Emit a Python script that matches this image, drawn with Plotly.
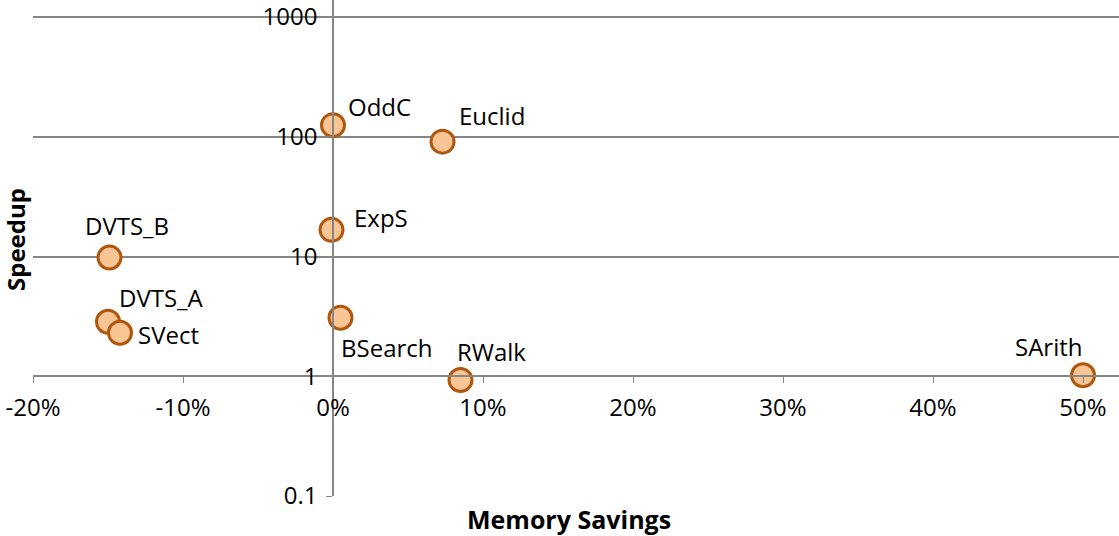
import plotly.graph_objects as go
import math

names = ["OddC", "Euclid", "ExpS", "DVTS_B", "DVTS_A", "SVect", "BSearch", "RWalk", "SArith"]
mem_savings = [0.0, 0.073, -0.001, -0.149, -0.150, -0.142, 0.005, 0.085, 0.50]
speedup = [125, 91, 16.7, 9.8, 2.85, 2.31, 3.08, 0.93, 1.02]

x_ticks = [-0.2, -0.1, 0.0, 0.1, 0.2, 0.3, 0.4, 0.5]
x_tick_text = ["-20%", "-10%", "0%", "10%", "20%", "30%", "40%", "50%"]
y_ticks = [0.1, 1, 10, 100, 1000]
y_tick_text = ["0.1", "1", "10", "100", "1000"]

# styling: label offsets in pixels (dx right, dy down) relative to each marker
label_offsets = [(46, -19), (49, -26), (49, -12), (17, -32), (53, -24),
                 (48, 2), (46, 30), (31, -29), (-35, -29)]

x_range = [-0.2, 0.524]
y_range = [-1, 3.142]

FONT = "Open Sans, Liberation Sans, sans-serif"

fig = go.Figure()
fig.add_trace(go.Scatter(
    x=mem_savings, y=speedup, mode="markers",
    marker=dict(size=23, color="#FAC595", line=dict(color="#B0570F", width=3)),
    cliponaxis=False, showlegend=False,
))

annotations = []
for name, xv, yv, (dx, dy) in zip(names, mem_savings, speedup, label_offsets):
    annotations.append(dict(
        text=name, x=xv, y=math.log10(yv), xref="x", yref="y",
        showarrow=False, xanchor="center", yanchor="middle",
        xshift=dx, yshift=-dy, font=dict(family=FONT, size=24, color="black"),
    ))

x_axis_pos = (0 - y_range[0]) / (y_range[1] - y_range[0])
y_axis_pos = (0 - x_range[0]) / (x_range[1] - x_range[0])

annotations += [
    dict(text="<b>Memory Savings</b>", xref="paper", yref="paper",
         x=0.494, y=0, yshift=-23, showarrow=False, yanchor="middle",
         font=dict(size=25)),
    dict(text="<b>Speedup</b>", xref="paper", yref="paper",
         x=0, xshift=-18, y=0.5, yshift=8, showarrow=False, textangle=-90,
         xanchor="center", yanchor="middle", font=dict(size=24)),
]

fig.update_layout(
    width=1119, height=536,
    margin=dict(l=33, r=0, t=0, b=40, autoexpand=False),
    plot_bgcolor="white", paper_bgcolor="white",
    font=dict(family=FONT, size=24, color="black"),
    xaxis=dict(
        range=x_range, tickvals=x_ticks, ticktext=x_tick_text,
        showgrid=False, zeroline=False, automargin=False,
        showline=True, linecolor="#868686", linewidth=1.5,
        ticks="outside", ticklen=6, tickcolor="#868686",
        anchor="free", position=x_axis_pos,
        tickfont=dict(size=24), ticklabeloverflow="allow",
        ticklabelstandoff=4,
    ),
    yaxis=dict(
        type="log", range=y_range, tickvals=y_ticks, ticktext=y_tick_text,
        showgrid=True, gridcolor="#868686", gridwidth=1.5, zeroline=False,
        automargin=False,
        showline=True, linecolor="#868686", linewidth=1.5,
        ticks="outside", ticklen=6, tickcolor="#868686",
        anchor="free", position=y_axis_pos,
        tickfont=dict(size=24), ticklabeloverflow="allow",
        ticklabelstandoff=4,
    ),
    annotations=annotations,
)

fig.write_html("out.html")
